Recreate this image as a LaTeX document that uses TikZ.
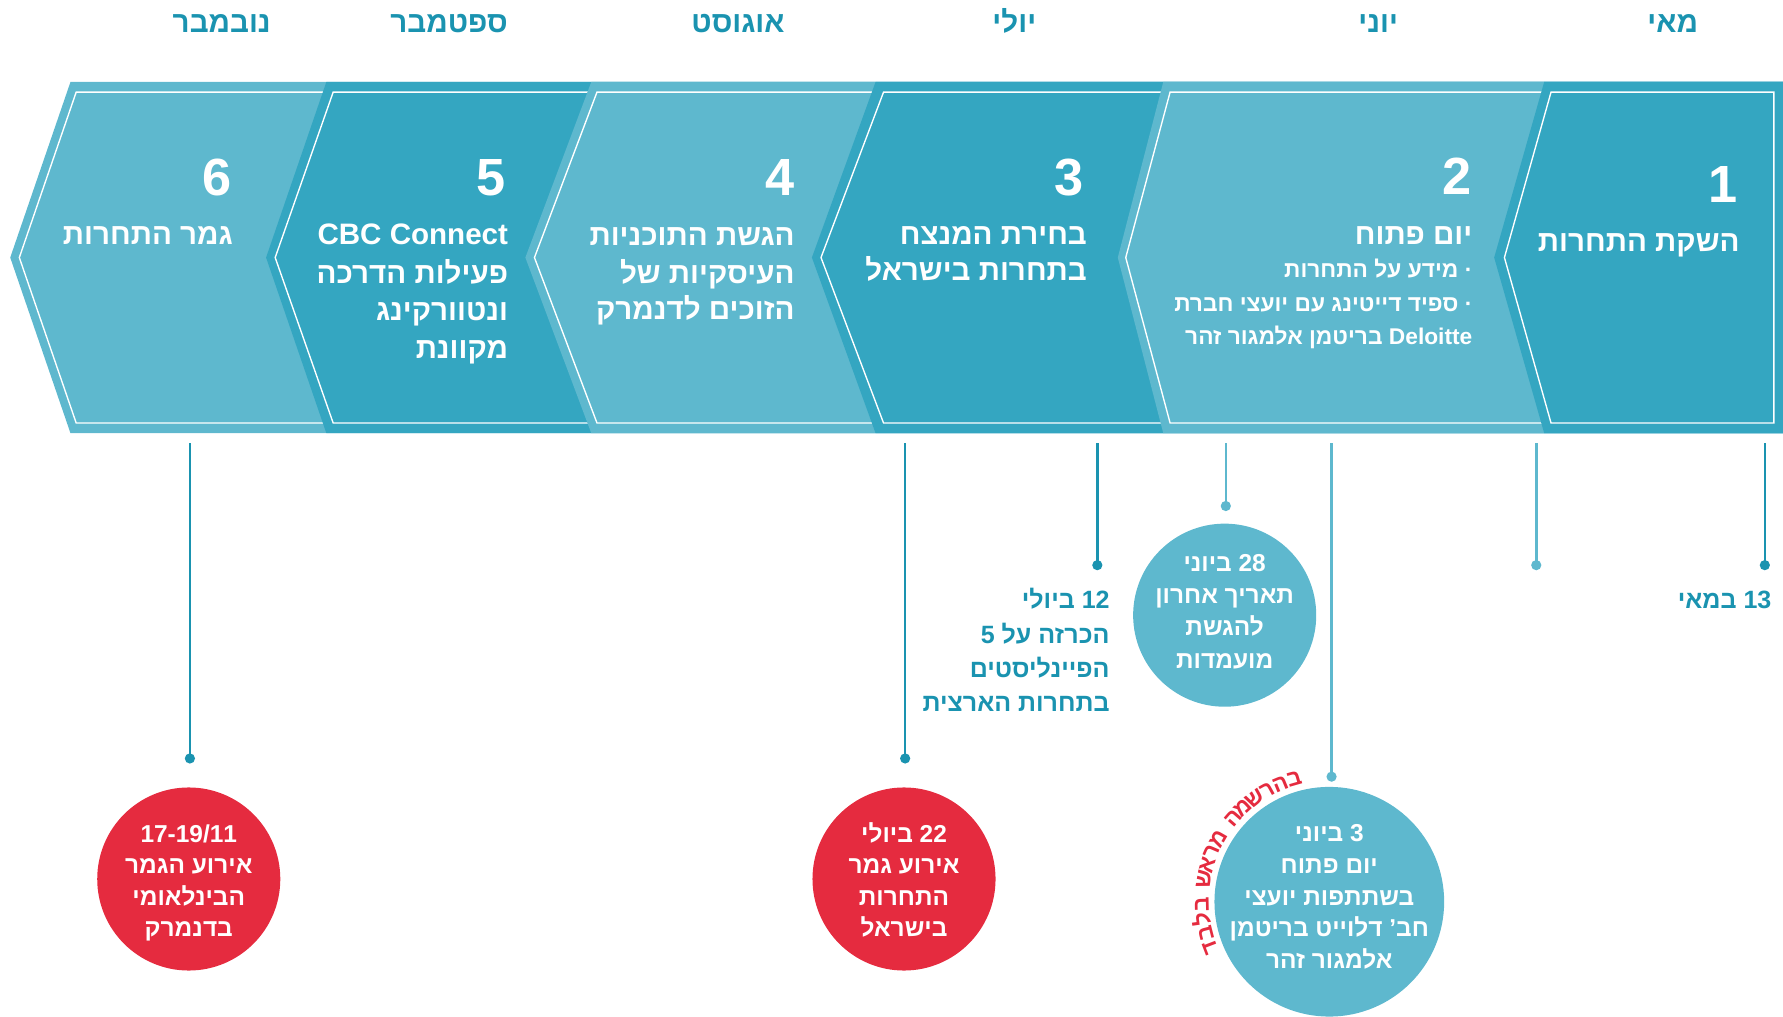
\documentclass[tikz,border=0pt]{standalone}
\usepackage{fontspec}
\setmainfont{Liberation Sans}
\newfontfamily\hebf[Script=Hebrew]{Liberation Sans}
\usetikzlibrary{calc}
\TeXXeTstate=1
\newcommand{\hebline}[1]{\beginR #1\endR}
\newcommand{\ltrpart}[1]{\beginL #1\endL}
\definecolor{tealdark}{HTML}{34A6C1}
\definecolor{teallight}{HTML}{5EB8CE}
\definecolor{tealtext}{HTML}{1A93B0}
\definecolor{redc}{HTML}{E52B3F}
\tikzset{
 chevd/.style={fill=tealdark},
 chevl/.style={fill=teallight},
 wline/.style={draw=white, line width=1.2pt},
 month/.style={font=\hebf\bfseries\fontsize{26}{30}\selectfont, text=tealtext, inner sep=0, anchor=base},
 numb/.style={font=\hebf\bfseries\fontsize{46}{50}\selectfont, text=white, inner sep=0, anchor=base east},
 ttl/.style={font=\hebf\bfseries\fontsize{26}{31}\selectfont, text=white, inner sep=0, anchor=base east},
 bul/.style={font=\hebf\bfseries\fontsize{20}{24}\selectfont, text=white, inner sep=0, anchor=base east},
 lbl/.style={font=\hebf\bfseries\fontsize{22}{26}\selectfont, text=tealtext, inner sep=0, anchor=base east},
 ctx/.style={font=\hebf\bfseries\fontsize{21.5}{25}\selectfont, text=white, inner sep=0, anchor=base},
 arctxt/.style={font=\hebf\bfseries\fontsize{20}{22}\selectfont, text=redc, inner sep=0, anchor=base},
 dotd/.style={circle, fill=tealtext, minimum size=9pt, inner sep=0},
 dotl/.style={circle, fill=teallight, minimum size=9pt, inner sep=0},
 connd/.style={draw=tealtext, line width=2.2pt},
 connl/.style={draw=teallight, line width=2.2pt},
 bubl/.style={circle, fill=teallight, inner sep=0},
 bubr/.style={circle, fill=redc, inner sep=0, minimum size=161pt},
}
\begin{document}
\begin{tikzpicture}[x=1pt,y=-1pt]
\useasboundingbox (0,0) rectangle (1568,893.5);

% months
\node[month] (m1) at (1471,29) {\hebline{מאי}};
\node[month] (m2) at (1212,29) {\hebline{יוני}};
\node[month] (m3) at (892,29) {\hebline{יולי}};
\node[month] (m4) at (649,29) {\hebline{אוגוסט}};
\node[month] (m5) at (395,29) {\hebline{ספטמבר}};
\node[month] (m6) at (195,29) {\hebline{נובמבר}};

% chevrons (left to right, each over the previous)
\fill[chevl] (62,72) -- (9,226.5) -- (62,381) -- (1568,381) -- (1568,72) -- cycle;
\draw[wline] (1568,81) -- (67,81) -- (17,226.5) -- (67,372) -- (1568,372);
\fill[chevd] (287,72) -- (234,226.5) -- (287,381) -- (1568,381) -- (1568,72) -- cycle;
\draw[wline] (1568,81) -- (293,81) -- (242,226.5) -- (293,372) -- (1568,372);
\fill[chevl] (520,72) -- (462,226.5) -- (520,381) -- (1568,381) -- (1568,72) -- cycle;
\draw[wline] (1568,81) -- (525,81) -- (470,226.5) -- (525,372) -- (1568,372);
\fill[chevd] (770,72) -- (714,226.5) -- (770,381) -- (1568,381) -- (1568,72) -- cycle;
\draw[wline] (1568,81) -- (777,81) -- (722,226.5) -- (777,372) -- (1568,372);
\fill[chevl] (1023,72) -- (983,226.5) -- (1023,381) -- (1568,381) -- (1568,72) -- cycle;
\draw[wline] (1568,81) -- (1029,81) -- (990,226.5) -- (1029,372) -- (1568,372);
\fill[chevd] (1358,72) -- (1314,226.5) -- (1358,381) -- (1568,381) -- (1568,72) -- cycle;
\draw[wline] (1560,81) -- (1364,81) -- (1323,226.5) -- (1364,372) -- (1560,372) -- cycle;

% chevron texts
\node[numb] (n1) at (1528,178) {1};
\node[ttl] (t1a) at (1530,221) {\hebline{השקת התחרות}};

\node[numb] (n2) at (1294,171) {2};
\node[ttl] (t2a) at (1295,215) {\hebline{יום פתוח}};
\node[bul] (t2b) at (1295,244) {\hebline{· מידע על התחרות}};
\node[bul] (t2c) at (1295,274) {\hebline{· ספיד דייטינג עם יועצי חברת}};
\node[bul] (t2d) at (1295,303) {\hebline{\ltrpart{Deloitte}{} בריטמן אלמגור זהר}};

\node[numb] (n3) at (953,172) {3};
\node[ttl] (t3a) at (956,215) {\hebline{בחירת המנצח}};
\node[ttl] (t3b) at (956,247) {\hebline{בתחרות בישראל}};

\node[numb] (n4) at (699,172) {4};
\node[ttl] (t4a) at (699,216) {\hebline{הגשת התוכניות}};
\node[ttl] (t4b) at (699,249) {\hebline{העיסקיות של}};
\node[ttl] (t4c) at (699,281) {\hebline{הזוכים לדנמרק}};

\node[numb] (n5) at (445,172) {5};
\node[ttl] (t5a) at (447,215) {CBC Connect};
\node[ttl] (t5b) at (447,249) {\hebline{פעילות הדרכה}};
\node[ttl] (t5c) at (447,282) {\hebline{ונטוורקינג}};
\node[ttl] (t5d) at (447,315) {\hebline{מקוונת}};

\node[numb] (n6) at (204,172) {6};
\node[ttl] (t6a) at (205,215) {\hebline{גמר התחרות}};

% connectors
\coordinate (s1) at (1552,390);
\coordinate (s2) at (1351,390);
\coordinate (s3) at (1078,390);
\coordinate (s4) at (1171,390);
\coordinate (s5) at (965,390);
\coordinate (s6) at (796,390);
\coordinate (s7) at (167,390);
\node[dotd] (d1) at (1552,497) {};
\node[dotl] (d2) at (1351,497) {};
\node[dotl] (d3) at (1078,445) {};
\node[dotl] (d4) at (1171,683) {};
\node[dotd] (d5) at (965,497) {};
\node[dotd] (d6) at (796,667) {};
\node[dotd] (d7) at (167,667) {};
\draw[connd] (s1) -- (d1.center);
\draw[connl] (s2) -- (d2.center);
\draw[connl] (s3) -- (d3.center);
\draw[connl] (s4) -- (d4.center);
\draw[connd] (s5) -- (d5.center);
\draw[connd] (s6) -- (d6.center);
\draw[connd] (s7) -- (d7.center);

% labels
\node[lbl] (l1) at (1558,535) {\hebline{\ltrpart{13} במאי}};
\node[lbl] (l5a) at (976,535) {\hebline{\ltrpart{12} ביולי}};
\node[lbl] (l5b) at (976,566) {\hebline{הכרזה על \ltrpart{5}}};
\node[lbl] (l5c) at (976,596) {\hebline{הפיינליסטים}};
\node[lbl] (l5d) at (976,626) {\hebline{בתחרות הארצית}};

% bubble 28 June
\node[bubl, minimum size=161pt] (b28) at (1077,541) {};
\node[ctx] (b28a) at (1077,503) {\hebline{\ltrpart{28} ביוני}};
\node[ctx] (b28b) at (1077,531) {\hebline{תאריך אחרון}};
\node[ctx] (b28c) at (1077,559) {\hebline{להגשת}};
\node[ctx] (b28d) at (1077,588) {\hebline{מועמדות}};

% bubble 3 June
\node[bubl, minimum size=202pt] (b3) at (1169,793) {};
\node[ctx] (b3a) at (1169,740) {\hebline{\ltrpart{3} ביוני}};
\node[ctx] (b3b) at (1169,768) {\hebline{יום פתוח}};
\node[ctx] (b3c) at (1169,796) {\hebline{בשתתפות יועצי}};
\node[ctx] (b3d) at (1169,824) {\hebline{חב’ דלוייט בריטמן}};
\node[ctx] (b3e) at (1169,852) {\hebline{אלמגור זהר}};

% curved red text
\foreach \ch/\ang [count=\i] in {ב/106.0,ה/112.6,ר/119.2,ש/125.8,מ/132.4,ה/139.0,מ/150.2,ר/156.8,א/163.4,ש/170.0,ב/181.2,ל/187.8,ב/194.4,ד/201.0}{
  \node[arctxt, rotate=\ang-90] (arc\i) at ($(b3)+(-\ang:106)$) {\ch};
}

% red bubbles
\node[bubr] (r1) at (795,773) {};
\node[ctx] (r1a) at (795,741) {\hebline{\ltrpart{22} ביולי}};
\node[ctx] (r1b) at (795,768) {\hebline{אירוע גמר}};
\node[ctx] (r1c) at (795,796) {\hebline{התחרות}};
\node[ctx] (r1d) at (795,824) {\hebline{בישראל}};

\node[bubr] (r2) at (166,773) {};
\node[ctx] (r2a) at (166,741) {17-19/11};
\node[ctx] (r2b) at (166,768) {\hebline{אירוע הגמר}};
\node[ctx] (r2c) at (166,796) {\hebline{הבינלאומי}};
\node[ctx] (r2d) at (166,824) {\hebline{בדנמרק}};
\end{tikzpicture}
\end{document}
